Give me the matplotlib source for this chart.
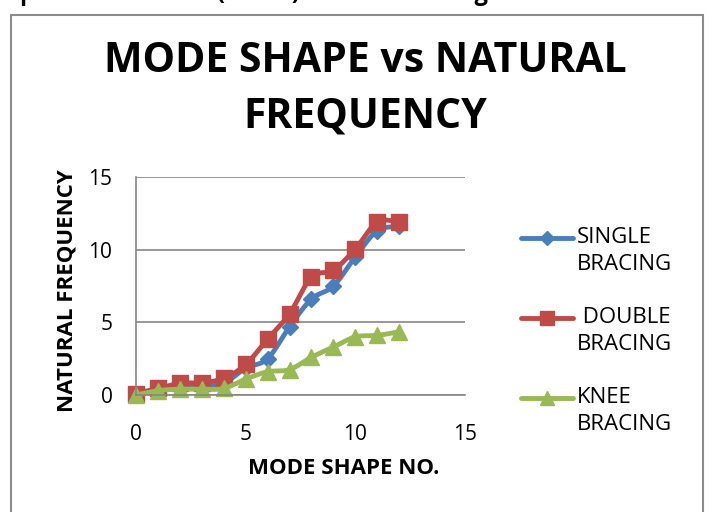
import numpy as np
import matplotlib
matplotlib.use("Agg")
import matplotlib.pyplot as plt
from matplotlib.lines import Line2D
from matplotlib.patches import Rectangle

mode_no = [0, 1, 2, 3, 4, 5, 6, 7, 8, 9, 10, 11, 12]
single = [0.05, 0.3, 0.5, 0.6, 0.8, 1.85, 2.5, 4.7, 6.6, 7.5, 9.5, 11.3, 11.6]
double = [0.1, 0.45, 0.8, 0.85, 1.15, 2.1, 3.85, 5.6, 8.1, 8.6, 10.05, 11.9, 11.9]
knee = [0.0, 0.3, 0.4, 0.4, 0.45, 1.1, 1.6, 1.75, 2.6, 3.3, 4.0, 4.1, 4.35]
series_labels = ["SINGLE\nBRACING", " DOUBLE\nBRACING", "KNEE\nBRACING"]
x_ticks = [0, 5, 10, 15]
y_ticks = [0, 5, 10, 15]

colors = ["#4A7EBB", "#BE4B48", "#98B954"]
markers = ["D", "s", "^"]
msizes = [8, 11, 11]

plt.rcParams['font.family'] = ['Open Sans', 'DejaVu Sans']

fig = plt.figure(figsize=(7.1, 5.12), dpi=100)
fig.add_artist(Rectangle((11/710, -0.1), (703-11)/710, 1.1 - 15/512,
                         transform=fig.transFigure, fill=False,
                         edgecolor="#8c8c8c", lw=1.5))
fig.text(0.0, 1.0 + 0.012, "e period observed (in sec) of knee bracing",
         fontsize=17, fontweight="bold", va="center", ha="left")

ax = fig.add_axes([136/710, 1-395/512, (465-136)/710, (395-177)/512])


def smooth(x, y, n=12):
    x = np.asarray(x, float); y = np.asarray(y, float)
    P = np.column_stack([x, y])
    P = np.vstack([P[0], P, P[-1]])
    out = []
    for i in range(1, len(P) - 2):
        p0, p1, p2, p3 = P[i-1], P[i], P[i+1], P[i+2]
        t = np.linspace(0, 1, n, endpoint=False)[:, None]
        c = 0.5 * ((2*p1) + (-p0 + p2)*t + (2*p0 - 5*p1 + 4*p2 - p3)*t**2
                   + (-p0 + 3*p1 - 3*p2 + p3)*t**3)
        out.append(c)
    out.append(P[-2][None, :])
    out = np.vstack(out)
    return out[:, 0], out[:, 1]


for ys, c, m, ms in zip([single, double, knee], colors, markers, msizes):
    sx, sy = smooth(mode_no, ys)
    ax.plot(sx, sy, color=c, lw=3.5, solid_capstyle="round", clip_on=False)
    ax.plot(mode_no, ys, ls="none", marker=m, ms=ms, color=c, clip_on=False)

ax.set_xlim(0, 15)
ax.set_ylim(0, 15)
ax.set_xticks(x_ticks)
ax.set_yticks(y_ticks)
ax.tick_params(labelsize=15, length=0)
ax.tick_params(axis="x", pad=21)
ax.tick_params(axis="y", pad=17)
for s in ["top", "right"]:
    ax.spines[s].set_visible(False)
for s in ["left", "bottom"]:
    ax.spines[s].set_color("#868686")
    ax.spines[s].set_linewidth(1.2)
ax.yaxis.grid(True, color="#868686", lw=1.2)
ax.set_axisbelow(True)
ax.set_xlabel("MODE SHAPE NO.", fontsize=16, fontweight="bold")
ax.set_ylabel("NATURAL FREQUENCY", fontsize=16, fontweight="bold")
ax.xaxis.set_label_coords((344 - 136)/329, (395 - 458)/218)
ax.yaxis.set_label_coords((77 - 136)/329, (395 - 291)/218)

fig.text(0.5 + 10/710, 1 - 62/512, "MODE SHAPE vs NATURAL", fontsize=29.5,
         fontweight="bold", ha="center", va="center")
fig.text(0.5 + 10/710, 1 - 117/512, "FREQUENCY", fontsize=29.5,
         fontweight="bold", ha="center", va="center")

leg_y = [238, 318, 398]
for yy, c, m, ms, lab in zip(leg_y, colors, markers, msizes, series_labels):
    fy = 1 - yy/512
    fig.add_artist(Line2D([521/710, 573/710], [fy, fy], color=c, lw=3.5,
                          solid_capstyle="round", transform=fig.transFigure))
    fig.add_artist(Line2D([547/710], [fy], color=c, marker=m, ms=ms - 1,
                          transform=fig.transFigure))
    fig.text(577/710, fy + 11/512, lab, fontsize=16, va="top", ha="left",
             linespacing=1.35)

fig.savefig("out.png", dpi=100)
